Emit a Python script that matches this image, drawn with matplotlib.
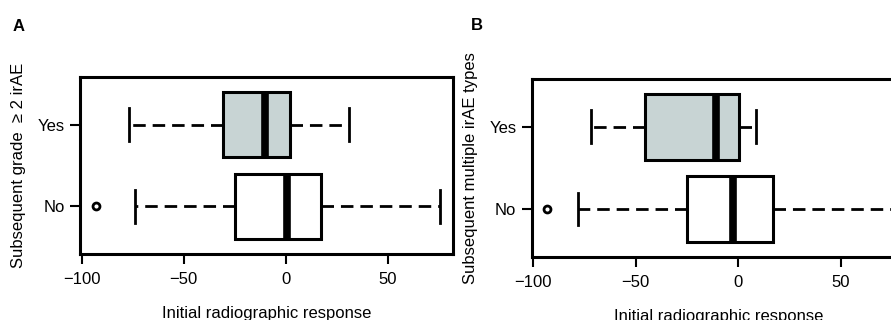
import matplotlib
matplotlib.use("Agg")
import matplotlib.pyplot as plt

plt.rcParams['font.family'] = ['Liberation Sans', 'DejaVu Sans']

# valores (respuesta radiografica inicial)
grupos = ['Yes', 'No']
# panel A: grade >= 2 irAE
a_whislo = [-77, -74]
a_q1 = [-31, -25]
a_med = [-10, 0.6]
a_q3 = [2, 17]
a_whishi = [31, 75.5]
a_fliers = [[], [-93]]
# panel B: multiple irAE types
b_whislo = [-72, -78]
b_q1 = [-45.5, -25]
b_med = [-11, -2.7]
b_q3 = [0.5, 17]
b_whishi = [8.5, 75]
b_fliers = [[], [-93.5]]

colores = ['#c8d4d4', 'white']
xticks = [-100, -50, 0, 50]


def dibujar(ax, whislo, q1, med, q3, whishi, fliers, ylabel):
    stats = []
    for i in range(len(grupos)):
        stats.append(dict(whislo=whislo[i], q1=q1[i], med=med[i], q3=q3[i],
                          whishi=whishi[i], fliers=fliers[i], label=grupos[i]))
    # R dibuja el primer nivel abajo: No abajo, Yes arriba
    stats = stats[::-1]
    bp = ax.bxp(stats, positions=[1, 2], vert=False, widths=0.8, patch_artist=True,
                boxprops=dict(linewidth=2.2, edgecolor='black'),
                medianprops=dict(color='black', linewidth=5.5, solid_capstyle='butt'),
                whiskerprops=dict(color='black', linewidth=2, linestyle=(0, (4.5, 2.5))),
                capprops=dict(color='black', linewidth=2),
                flierprops=dict(marker='o', markersize=5, markerfacecolor='none',
                                markeredgecolor='black', markeredgewidth=2),
                capwidths=0.4)
    for patch, c in zip(bp['boxes'], colores[::-1]):
        patch.set_facecolor(c)
    ax.set_ylim(0.42, 2.58)
    ax.set_xlim(-100.8, 81.8)
    ax.set_xticks(xticks)
    ax.set_xticklabels(['\u2212100', '\u221250', '0', '50'])
    ax.set_yticks([1, 2])
    ax.set_yticklabels(['No', 'Yes'])
    ax.tick_params(axis='both', direction='out', length=7, width=1.5, labelsize=12, pad=4)
    ax.tick_params(axis='x', pad=6)
    for s in ax.spines.values():
        s.set_linewidth(2.2)
    ax.set_xlabel('Initial radiographic response', fontsize=12, labelpad=14)
    ax.set_ylabel(ylabel, fontsize=12, labelpad=8)


fig = plt.figure(figsize=(8.91, 3.2), dpi=100)
ax1 = fig.add_axes([0.0898, 0.2063, 0.4186, 0.5531])
ax2 = fig.add_axes([0.5967, 0.198, 0.42, 0.555])

dibujar(ax1, a_whislo, a_q1, a_med, a_q3, a_whishi, a_fliers,
        'Subsequent grade  \u2265 2 irAE')
dibujar(ax2, b_whislo, b_q1, b_med, b_q3, b_whishi, b_fliers,
        'Subsequent multiple irAE types')

fig.text(0.014, 0.903, 'A', fontsize=12, fontweight='bold')
fig.text(0.529, 0.905, 'B', fontsize=12, fontweight='bold')

fig.savefig('out.png', dpi=100)
